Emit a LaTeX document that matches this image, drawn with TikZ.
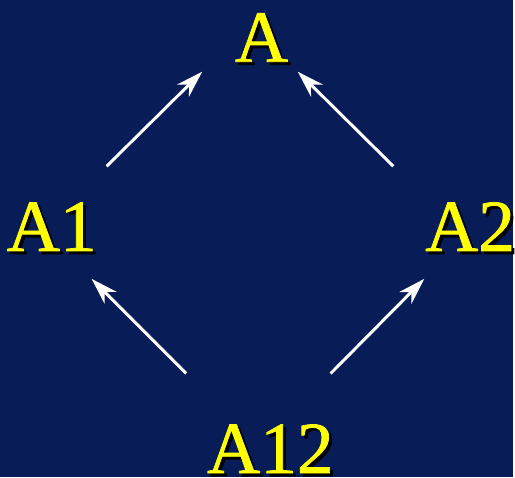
\documentclass[tikz,border=0pt]{standalone}
\usepackage{fontspec}
\setmainfont{Liberation Serif}
\newfontfamily\lblfont{Liberation Serif}[FakeBold=1.0]
\usetikzlibrary{arrows.meta}
\definecolor{navy}{RGB}{8,28,88}
\definecolor{lemon}{RGB}{255,255,0}
\newcommand{\shadowed}[1]{\makebox[0pt][l]{\hspace{0.06cm}\raisebox{-0.06cm}{\color{black}#1}}{\color{lemon}#1}}
\begin{document}
\begin{tikzpicture}[x=0.02cm,y=-0.02cm,
 lbl/.style={anchor=base,inner sep=0pt,font=\lblfont\fontsize{42}{48}\selectfont},
 arr/.style={-{Stealth[length=0.54cm,width=0.34cm,inset=0.17cm]},line width=1.7pt,draw=white}]
\fill[navy] (0,0) rectangle (515,479);
\node[lbl] (a) at (262.5,62) {\shadowed{A}};
\node[lbl] (a1) at (52,252) {\shadowed{A1}};
\node[lbl] (a2) at (472,252) {\shadowed{A2}};
\node[lbl] (a12) at (271.5,475) {\shadowed{A12}};
\coordinate (t1) at (107,167); \coordinate (h1) at (203,72);
\coordinate (t2) at (395,167); \coordinate (h2) at (299,72);
\coordinate (t3) at (187,375); \coordinate (h3) at (92,280);
\coordinate (t4) at (332,375); \coordinate (h4) at (426,280);
\draw[arr] (t1)--(h1); \draw[arr] (t2)--(h2);
\draw[arr] (t3)--(h3); \draw[arr] (t4)--(h4);
\end{tikzpicture}
\end{document}
